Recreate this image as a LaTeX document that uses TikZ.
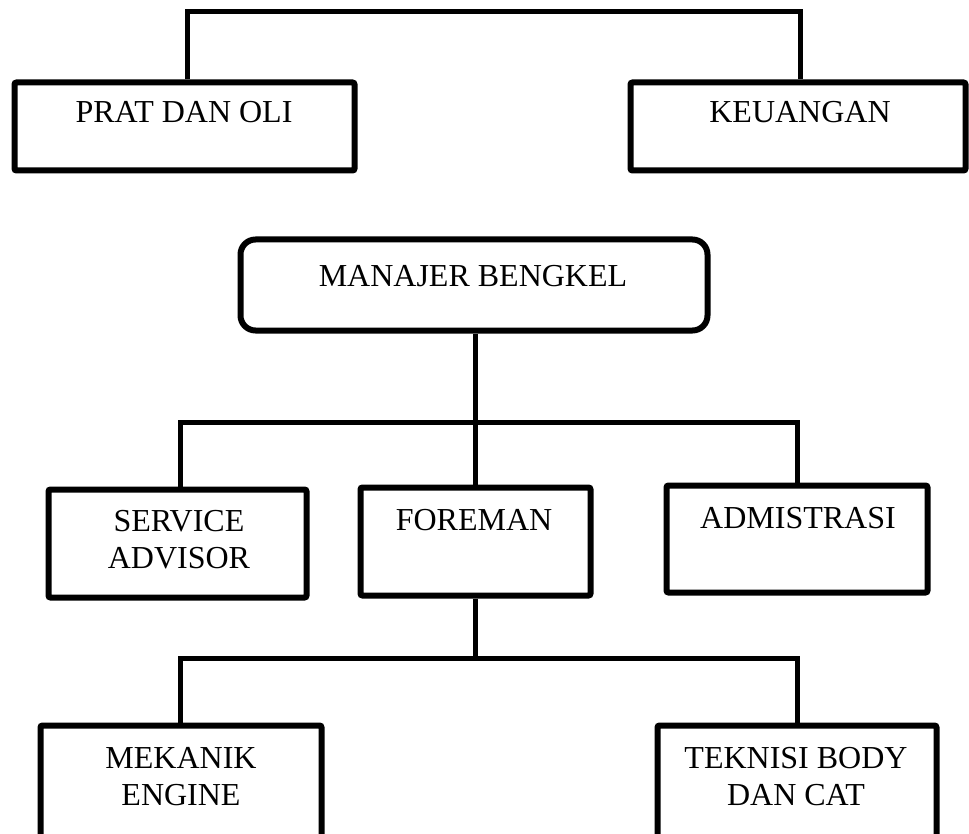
\documentclass[tikz,border=0pt]{standalone}
\usepackage{fontspec}
\setmainfont{Liberation Serif}
\begin{document}
\begin{tikzpicture}[x=1pt,y=-1pt,
  box/.style={draw, line width=6pt, rounded corners=2pt, inner sep=0pt},
  conn/.style={line width=5pt},
  lbl/.style={font=\fontsize{32}{37}\selectfont, anchor=base, align=center, inner sep=0pt}]
\clip (0,0) rectangle (969,834);
% boxes
\node[box, minimum width=340pt, minimum height=88pt] (prat) at (184.5,126.5) {};
\node[box, minimum width=335pt, minimum height=88pt] (keu) at (798,126.5) {};
\node[box, rounded corners=15pt, minimum width=467pt, minimum height=91pt] (mgr) at (474,285) {};
\node[box, minimum width=258pt, minimum height=108pt] (sa) at (177.5,543.5) {};
\node[box, minimum width=230pt, minimum height=108pt] (fm) at (475.5,541.5) {};
\node[box, minimum width=261pt, minimum height=107pt] (adm) at (797,539) {};
\node[box, minimum width=281pt, minimum height=125pt] (mek) at (181,788) {};
\node[box, minimum width=279pt, minimum height=125pt] (tek) at (797,788) {};
% labels (base = last line's baseline)
\node[lbl] (pratt) at (184,123) {PRAT DAN OLI};
\node[lbl] (keut) at (800,123) {KEUANGAN};
\node[lbl] (mgrt) at (473,287) {MANAJER BENGKEL};
\node[lbl] (sat) at (179,568) {SERVICE\\ADVISOR};
\node[lbl] (fmt) at (474,530) {FOREMAN};
\node[lbl] (admt) at (798,528) {ADMISTRASI};
\node[lbl] (mekt) at (181,805) {MEKANIK\\ENGINE};
\node[lbl] (tekt) at (796,805) {TEKNISI BODY\\DAN CAT};
% connectors
\coordinate (top) at (490,12);
\draw[conn] ([xshift=2.5pt]prat.north) |- (top) -| ([xshift=2pt]keu.north);
\coordinate (j1) at (475,422);
\draw[conn] (mgr.south -| j1) -- (j1);
\draw[conn] ([xshift=2.5pt]sa.north) |- (j1) -| (adm.north);
\draw[conn] (j1) -- (fm.north -| j1);
\coordinate (j2) at (475,658);
\draw[conn] (fm.south -| j2) -- (j2);
\draw[conn] ([xshift=-1pt]mek.north) |- (j2) -| (tek.north);
\end{tikzpicture}
\end{document}
